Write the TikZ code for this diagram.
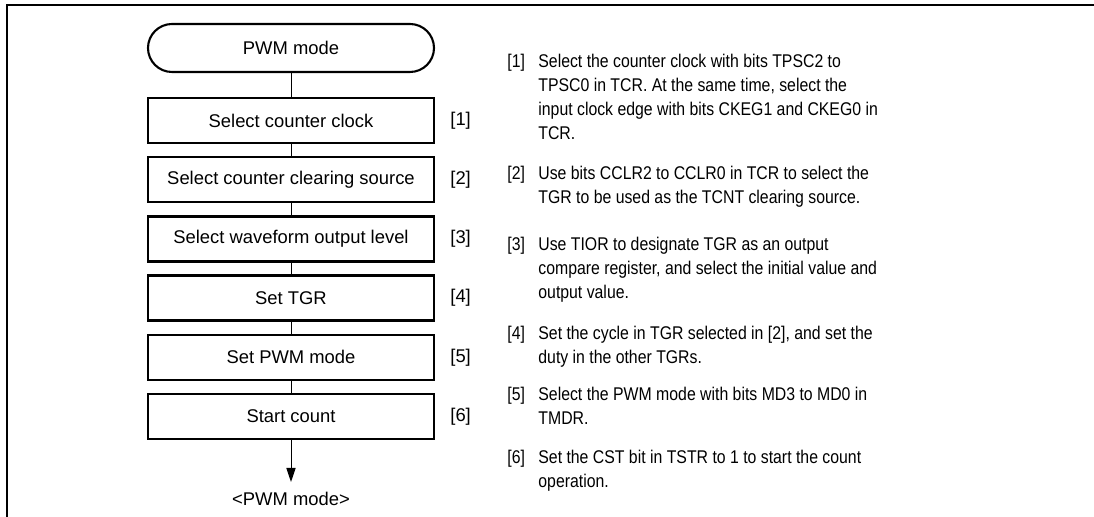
\documentclass[tikz,border=0pt]{standalone}
\usepackage{fontspec}
\setmainfont{Liberation Sans}
\newfontfamily\notefont[FakeStretch=0.86]{Liberation Sans}
\usepackage{xcolor}
\definecolor{cInk}{HTML}{000000}
\usepackage{tikz}
\usetikzlibrary{positioning,arrows.meta,shapes.misc}
\tikzset{
  node-box/.style={draw=cInk,line width=1.15pt,minimum height=22.5pt,
    minimum width=143pt,inner sep=0pt,outer sep=0pt,align=center},
  node-term/.style={draw=cInk,line width=1.05pt,rounded rectangle,
    minimum height=24pt,minimum width=143pt,inner sep=0pt,outer sep=0pt,align=center},
  node-tag/.style={inner sep=0pt},
  node-note/.style={inner sep=0pt,anchor=north west,align=left,
    font=\notefont\fontsize{9.2}{12}\selectfont},
  node-end/.style={inner xsep=0pt,inner ysep=5pt},
  link/.style={draw=cInk,line width=0.5pt},
  arrow/.style={-{Triangle[length=7pt,width=4.6pt]},line width=0.5pt,draw=cInk},
  frame-line/.style={draw=cInk,line width=1.25pt},
}

\begin{document}
\begin{tikzpicture}[x=0.5pt,y=-0.5pt,node distance=7.1pt and 8pt,
  every node/.append style={font=\fontsize{9.2}{12}\selectfont}]
  \useasboundingbox (0,0) rectangle (1094,517);
  \draw[frame-line] (7,517) -- (7,5) -- (1094,5);
  % flow
  \node[node-term]                  (start) at (291,48) {PWM mode};
  \node[node-box,below=13pt of start] (b1) {Select counter clock};
  \node[node-box,below=of b1]         (b2) {Select counter clearing source};
  \node[node-box,below=of b2]         (b3) {Select waveform output level};
  \node[node-box,below=of b3]         (b4) {Set TGR};
  \node[node-box,below=of b4]         (b5) {Set PWM mode};
  \node[node-box,below=of b5]         (b6) {Start count};
  \node[node-end,below=21.5pt of b6]  (out) {<PWM mode>};
  \node[node-tag,right=of b1] (tag1) {[1]};
  \node[node-tag,right=of b2] (tag2) {[2]};
  \node[node-tag,right=of b3] (tag3) {[3]};
  \node[node-tag,right=of b4] (tag4) {[4]};
  \node[node-tag,right=of b5] (tag5) {[5]};
  \node[node-tag,right=of b6] (tag6) {[6]};
  \draw[link]  (start) -- (b1);
  \draw[link]  (b1) -- (b2);
  \draw[link]  (b2) -- (b3);
  \draw[link]  (b3) -- (b4);
  \draw[link]  (b4) -- (b5);
  \draw[link]  (b5) -- (b6);
  \draw[arrow] (b6) -- (out);
  % notes
  \node[node-note] (n1) at (507,53.4) {[1]};
  \node[node-note] (t1) at (538,53.4) {Select the counter clock with bits TPSC2 to\\
    TPSC0 in TCR. At the same time, select the\\
    input clock edge with bits CKEG1 and CKEG0 in\\TCR.};
  \node[node-note] (n2) at (507,165.4) {[2]};
  \node[node-note] (t2) at (538,165.4) {Use bits CCLR2 to CCLR0 in TCR to select the\\
    TGR to be used as the TCNT clearing source.};
  \node[node-note] (n3) at (507,236.4) {[3]};
  \node[node-note] (t3) at (538,236.4) {Use TIOR to designate TGR as an output\\
    compare register, and select the initial value and\\output value.};
  \node[node-note] (n4) at (507,325.4) {[4]};
  \node[node-note] (t4) at (538,325.4) {Set the cycle in TGR selected in [2], and set the\\
    duty in the other TGRs.};
  \node[node-note] (n5) at (507,386.4) {[5]};
  \node[node-note] (t5) at (538,386.4) {Select the PWM mode with bits MD3 to MD0 in\\TMDR.};
  \node[node-note] (n6) at (507,449.4) {[6]};
  \node[node-note] (t6) at (538,449.4) {Set the CST bit in TSTR to 1 to start the count\\
    operation.};
\end{tikzpicture}
\end{document}
